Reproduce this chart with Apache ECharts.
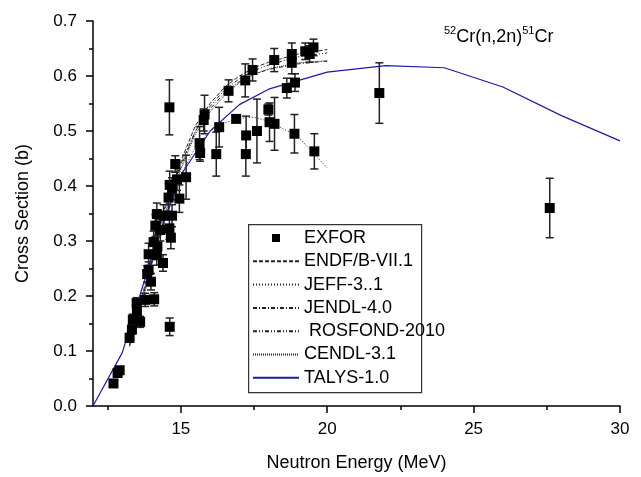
<!DOCTYPE html>
<html>
<head>
<meta charset="utf-8">
<script src="https://cdn.jsdelivr.net/npm/echarts@6/dist/echarts.min.js"></script>
<style>
html,body{margin:0;padding:0;background:#fff}
#chart{width:641px;height:477px}
</style>
</head>
<body>
<div id="chart"></div>
<script>
// EXFOR measurements: energy (MeV), cross section (b), error (b)
const exforE = [12.70,12.84,12.91,13.25,13.33,13.36,13.50,13.49,13.61,13.78,14.09,14.62,
  13.85,13.90,13.98,13.90,14.18,14.39,14.07,14.20,14.30,14.13,14.61,14.66,14.18,14.41,14.70,
  14.58,14.95,14.62,14.70,14.87,14.81,15.18,14.61,15.64,15.66,15.81,15.78,16.21,16.31,16.63,
  16.89,17.20,17.22,17.23,17.45,17.60,17.99,18.03,18.20,18.19,18.62,18.79,18.79,18.88,18.90,
  19.25,19.40,19.53,19.56,21.78,27.60];
const exforXS = [0.041,0.060,0.065,0.124,0.139,0.157,0.172,0.187,0.153,0.193,0.194,0.144,
  0.240,0.247,0.226,0.276,0.274,0.260,0.298,0.290,0.320,0.328,0.323,0.306,0.349,0.346,0.346,
  0.379,0.377,0.402,0.395,0.412,0.440,0.416,0.543,0.478,0.460,0.530,0.520,0.458,0.507,0.573,
  0.522,0.592,0.458,0.492,0.611,0.500,0.539,0.516,0.513,0.629,0.578,0.640,0.624,0.495,0.588,
  0.645,0.640,0.652,0.463,0.569,0.360];
const exforErr = [0.005,0.006,0.006,0.008,0.008,0.010,0.010,0.010,0.010,0.012,0.012,0.016,
  0.015,0.015,0.015,0.020,0.018,0.015,0.020,0.020,0.020,0.020,0.020,0.020,0.020,0.020,0.020,
  0.025,0.025,0.025,0.020,0.020,0.015,0.040,0.050,0.030,0.015,0.035,0.020,0.040,0.036,0.020,
  0,0.030,0.040,0.035,0.020,0.058,0.010,0.035,0.048,0.021,0.018,0.020,0.020,0.035,0.016,
  0.015,0.015,0.015,0.032,0.055,0.054];

// evaluated data libraries
const evalE   = [13.25,13.5,14,14.5,15,15.5,16,16.5,17,17.5,18,19,20];
const endfXS  = [0.115,0.160,0.270,0.370,0.445,0.510,0.550,0.580,0.600,0.615,0.625,0.640,0.648];
const jeffXS  = [0.110,0.150,0.260,0.350,0.420,0.470,0.500,0.515,0.523,0.525,0.518,0.490,0.433];
const jendlXS = [0.112,0.155,0.265,0.365,0.440,0.500,0.540,0.570,0.590,0.603,0.612,0.622,0.627];
const rosXS   = [0.110,0.150,0.260,0.360,0.435,0.500,0.545,0.575,0.595,0.610,0.620,0.635,0.642];
const cendlXS = [0.108,0.150,0.255,0.355,0.430,0.495,0.535,0.565,0.588,0.603,0.613,0.624,0.628];

// TALYS-1.0 calculation
const talysE  = [12,13,14,15,16,17,18,20,22,24,26,28,30];
const talysXS = [0,0.097,0.270,0.420,0.500,0.548,0.576,0.607,0.619,0.615,0.580,0.528,0.482];

const xMajor = [15,20,25,30];
const xMinor = [12.5,17.5,22.5,27.5];

const font = '"Liberation Sans", Arial, sans-serif';
const pair = (xs, ys) => xs.map((x, i) => [x, ys[i]]);

const chart = echarts.init(document.getElementById('chart'));

const evalLine = (name, ys, type) => ({
  name: name,
  type: 'line',
  data: pair(evalE, ys),
  showSymbol: false,
  symbol: 'none',
  itemStyle: { color: '#222' },
  lineStyle: { color: '#222', width: 1, type: type },
  z: 3
});

// line entries in the legend: keep the line, hide the marker dot
const lineItem = name => ({ name: name, itemStyle: { opacity: 0 } });

const option = {
  animation: false,
  backgroundColor: '#fff',
  textStyle: { fontFamily: font },
  grid: { left: 93, right: 21, top: 21, bottom: 66, containLabel: false },
  title: {
    left: 439, top: 20,
    text: '{s|52}{m|Cr(n,2n)}{s|51}{m|Cr}',
    textStyle: {
      fontWeight: 'normal',
      rich: {
        s: { fontSize: 11, fontFamily: font, fontWeight: 'normal', color: '#000', verticalAlign: 'top', lineHeight: 20 },
        m: { fontSize: 18, fontFamily: font, fontWeight: 'normal', color: '#000', lineHeight: 24 }
      }
    }
  },
  xAxis: [{
    type: 'value', min: 12, max: 30,
    name: 'Neutron Energy (MeV)', nameLocation: 'middle', nameGap: 48,
    nameTextStyle: { fontSize: 18, color: '#000', fontFamily: font },
    axisLine: { lineStyle: { color: '#000', width: 1.5 } },
    axisTick: { show: true, length: 7, customValues: xMajor, lineStyle: { color: '#000', width: 1.5 } },
    axisLabel: { customValues: xMajor, fontSize: 17, color: '#000', margin: 15, fontFamily: font },
    splitLine: { show: false }
  }, {
    type: 'value', min: 12, max: 30, position: 'bottom',
    axisLine: { show: false },
    axisTick: { show: true, length: 4, customValues: xMinor, lineStyle: { color: '#000', width: 1.5 } },
    axisLabel: { show: false },
    splitLine: { show: false }
  }],
  yAxis: {
    type: 'value', min: 0, max: 0.7, interval: 0.1,
    name: 'Cross Section (b)', nameLocation: 'middle', nameGap: 61,
    nameTextStyle: { fontSize: 18, color: '#000', fontFamily: font },
    axisLine: { show: true, lineStyle: { color: '#000', width: 1.5 } },
    axisTick: { show: true, length: 7, lineStyle: { color: '#000', width: 1.5 } },
    minorTick: { show: true, splitNumber: 2, length: 4, lineStyle: { color: '#000', width: 1.5 } },
    axisLabel: { fontSize: 17, color: '#000', margin: 16, fontFamily: font,
      formatter: v => v.toFixed(1) },
    splitLine: { show: false }
  },
  legend: {
    orient: 'vertical', left: 252, top: 229, padding: 0,
    itemWidth: 46, itemHeight: 8, itemGap: 5.3,
    symbolKeepAspect: true,
    textStyle: { fontSize: 18, color: '#000', fontFamily: font, lineHeight: 18 },
    data: [
      { name: 'EXFOR', icon: 'path://M0 0H10V10H0Z' },
      lineItem('ENDF/B-VII.1'),
      lineItem('JEFF-3..1'),
      lineItem('JENDL-4.0'),
      lineItem(' ROSFOND-2010'),
      lineItem('CENDL-3.1'),
      lineItem('TALYS-1.0')
    ],
    z: 6
  },
  graphic: [{
    type: 'rect', left: 248, top: 224, z: 5,
    shape: { width: 173, height: 168 },
    style: { fill: '#fff', stroke: '#333', lineWidth: 1.2 }
  }],
  series: [
    {
      name: 'EXFOR',
      type: 'scatter',
      data: pair(exforE, exforXS),
      symbol: 'rect',
      symbolSize: 10,
      itemStyle: { color: '#000', opacity: 1 },
      z: 4
    },
    {
      name: 'errors',
      type: 'custom',
      data: exforE.map((e, i) => [e, exforXS[i], exforErr[i]]),
      encode: { x: 0, y: 1 },
      renderItem: (params, api) => {
        const x = api.value(0), y = api.value(1), e = api.value(2);
        if (!e) return null;
        const t = api.coord([x, y + e]), b = api.coord([x, y - e]);
        const w = 4;
        const st = { stroke: '#222', lineWidth: 1.5 };
        return {
          type: 'group',
          children: [
            { type: 'line', shape: { x1: t[0], y1: t[1], x2: b[0], y2: b[1] }, style: st },
            { type: 'line', shape: { x1: t[0] - w, y1: t[1], x2: t[0] + w, y2: t[1] }, style: st },
            { type: 'line', shape: { x1: b[0] - w, y1: b[1], x2: b[0] + w, y2: b[1] }, style: st }
          ]
        };
      },
      z: 3
    },
    evalLine('ENDF/B-VII.1', endfXS, [4, 2]),
    evalLine('JEFF-3..1', jeffXS, [1, 2]),
    evalLine('JENDL-4.0', jendlXS, [4, 2, 1, 2]),
    evalLine(' ROSFOND-2010', rosXS, [4, 2, 1, 2, 1, 2]),
    evalLine('CENDL-3.1', cendlXS, [1, 1]),
    {
      name: 'TALYS-1.0',
      type: 'line',
      data: pair(talysE, talysXS),
      showSymbol: false,
      symbol: 'none',
      lineStyle: { color: '#1c1ca0', width: 1.2 },
      itemStyle: { color: '#1c1ca0' },
      z: 3
    }
  ]
};

chart.setOption(option);
</script>
</body>
</html>
